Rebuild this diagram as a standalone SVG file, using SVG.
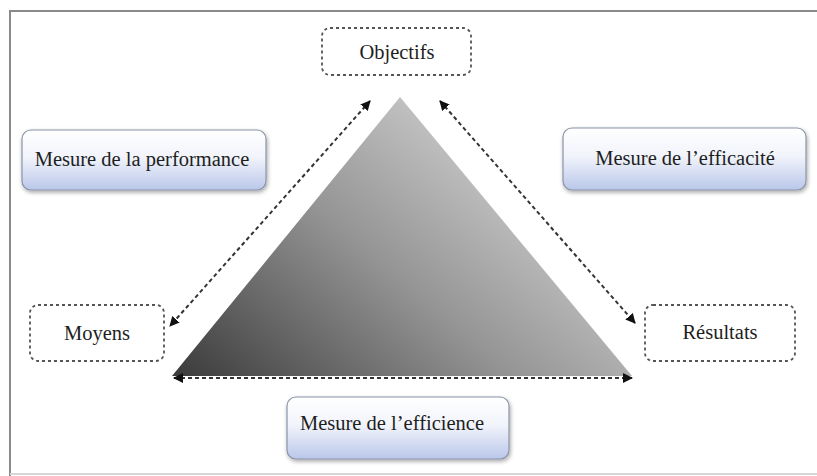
<svg xmlns="http://www.w3.org/2000/svg" width="817" height="476" viewBox="0 0 817 476">
<defs>
<linearGradient id="tri" x1="0" y1="1" x2="1" y2="0.3">
<stop offset="0" stop-color="#3a3a3a"/>
<stop offset="0.5" stop-color="#959595"/>
<stop offset="1" stop-color="#dcdcdc"/>
</linearGradient>
<linearGradient id="blue" x1="0" y1="0" x2="0" y2="1">
<stop offset="0" stop-color="#ffffff"/>
<stop offset="0.45" stop-color="#f2f4fb"/>
<stop offset="1" stop-color="#b9c7ea"/>
</linearGradient>
<filter id="sh" x="-10%" y="-20%" width="120%" height="150%">
<feGaussianBlur in="SourceAlpha" stdDeviation="2"/>
<feOffset dx="1" dy="2"/>
<feComponentTransfer><feFuncA type="linear" slope="0.35"/></feComponentTransfer>
<feMerge><feMergeNode/><feMergeNode in="SourceGraphic"/></feMerge>
</filter>
<marker id="ah" viewBox="0 0 10 10" refX="9" refY="5" markerWidth="5" markerHeight="5" orient="auto-start-reverse">
<path d="M0,0 L10,5 L0,10 z" fill="#111"/>
</marker>
<style>
.t{font-family:"Liberation Serif","Times New Roman",serif;font-size:20.5px;fill:#1e1e1e;text-anchor:middle;dominant-baseline:central}
.d{fill:#fff;stroke:#555;stroke-width:1.8;stroke-dasharray:3 3}
.b{fill:url(#blue);stroke:#8a93a8;stroke-width:1.2;filter:url(#sh)}
.c{fill:none;stroke:#333;stroke-width:2;stroke-dasharray:4 3;marker-start:url(#ah);marker-end:url(#ah)}
</style>
</defs>
<rect width="817" height="476" fill="#fff"/>
<g id="frame" fill="none" stroke="#8a8a8a" stroke-width="2">
<path d="M10,476 V11 H817"/>
<path d="M10,474 H817" stroke="#d6d6d6"/>
</g>
<g id="triangle">
<polygon points="400,97 172,376 632,376" fill="url(#tri)"/>
</g>
<g id="connectors">
<line class="c" x1="370" y1="101" x2="170" y2="326"/>
<line class="c" x1="440" y1="101" x2="635" y2="323"/>
<line class="c" x1="174" y1="378" x2="632" y2="378"/>
</g>
<g id="objectifs">
<rect class="d" x="322" y="28" width="149" height="47" rx="8"/>
<text class="t" x="397" y="52">Objectifs</text>
</g>
<g id="performance">
<rect class="b" x="22" y="130" width="244" height="60" rx="9"/>
<text class="t" x="142" y="159">Mesure de la performance</text>
</g>
<g id="efficacite">
<rect class="b" x="563" y="128" width="243" height="62" rx="9"/>
<text class="t" x="685" y="158">Mesure de l’efficacité</text>
</g>
<g id="moyens">
<rect class="d" x="30" y="305" width="134" height="56" rx="8"/>
<text class="t" x="97" y="333">Moyens</text>
</g>
<g id="resultats">
<rect class="d" x="645" y="305" width="150" height="56" rx="8"/>
<text class="t" x="720" y="332">Résultats</text>
</g>
<g id="efficience">
<rect class="b" x="287" y="397" width="222" height="62" rx="9"/>
<text class="t" x="392" y="423">Mesure de l’efficience</text>
</g>
</svg>
